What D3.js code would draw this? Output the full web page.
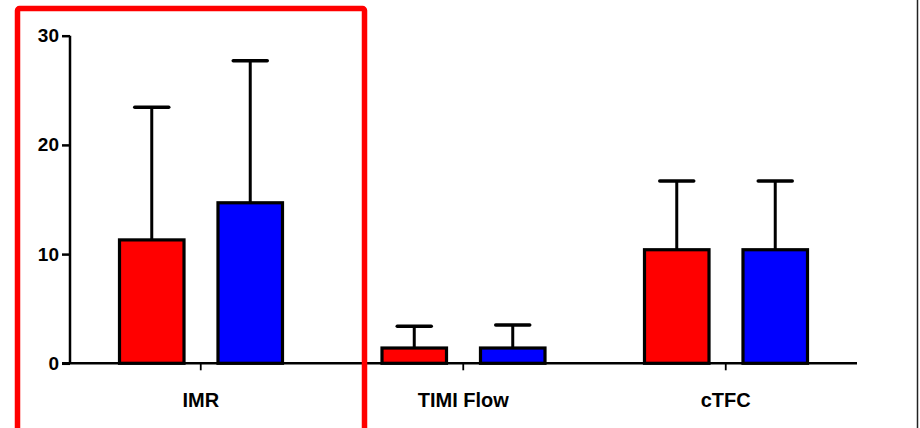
<!DOCTYPE html>
<html>
<head>
<meta charset="utf-8">
<script src="https://cdn.jsdelivr.net/npm/d3@7"></script>
<style>
  html, body { margin: 0; padding: 0; background: #fff; }
  svg { display: block; }
  text { font-family: "Liberation Sans", Arial, sans-serif; font-weight: bold; fill: #000; }
</style>
</head>
<body>
<svg id="chart" width="920" height="428"></svg>
<script>
// Outcome measures, two groups (mean with upper SD whisker)
const categories = ["IMR", "TIMI Flow", "cTFC"];
const seriesNames = ["Group 1", "Group 2"];
const seriesColors = ["#ff0000", "#0000ff"];
const group1Mean = [11.3, 1.4, 10.4];
const group1SD   = [12.15, 2.0, 6.3];
const group2Mean = [14.7, 1.4, 10.4];
const group2SD   = [13.0, 2.1, 6.3];
const yTicks = [0, 10, 20, 30];

const svg = d3.select("#chart");

const plotLeft = 70, plotRight = 857, plotTop = 35.7, plotBottom = 363.3;

const x0 = d3.scaleBand().domain(categories).range([plotLeft - 0.5, plotRight]).padding(0);
const x1 = d3.scaleBand().domain(seriesNames).range([50, 213]).paddingInner(0.345).paddingOuter(0);
const y = d3.scaleLinear().domain([0, 30]).range([plotBottom, plotTop]);

const rows = categories.map((c, i) => ({
  cat: c,
  vals: [
    { s: seriesNames[0], mean: group1Mean[i], sd: group1SD[i], color: seriesColors[0] },
    { s: seriesNames[1], mean: group2Mean[i], sd: group2SD[i], color: seriesColors[1] }
  ]
}));

// bars
const g = svg.append("g");
const grp = g.selectAll("g.cat").data(rows).join("g")
  .attr("class", "cat")
  .attr("transform", d => `translate(${x0(d.cat)},0)`);

// error whiskers (drawn first so the bar outline sits on top)
grp.selectAll("line.err").data(d => d.vals).join("line")
  .attr("class", "err")
  .attr("x1", d => x1(d.s) + x1.bandwidth() / 2)
  .attr("x2", d => x1(d.s) + x1.bandwidth() / 2)
  .attr("y1", d => y(d.mean))
  .attr("y2", d => y(d.mean + d.sd))
  .attr("stroke", "#000").attr("stroke-width", 3);

grp.selectAll("line.cap").data(d => d.vals).join("line")
  .attr("class", "cap")
  .attr("x1", d => x1(d.s) + x1.bandwidth() / 2 - 17)
  .attr("x2", d => x1(d.s) + x1.bandwidth() / 2 + 17)
  .attr("y1", d => y(d.mean + d.sd))
  .attr("y2", d => y(d.mean + d.sd))
  .attr("stroke", "#000").attr("stroke-width", 3.5).attr("stroke-linecap", "round");

grp.selectAll("rect").data(d => d.vals).join("rect")
  .attr("x", d => x1(d.s))
  .attr("y", d => y(d.mean))
  .attr("width", x1.bandwidth())
  .attr("height", d => y(0) - y(d.mean))
  .attr("fill", d => d.color)
  .attr("stroke", "#000").attr("stroke-width", 3.2);

// y axis
const yAxis = d3.axisLeft(y).tickValues(yTicks).tickSize(8).tickPadding(3).tickFormat(d3.format("d"));
const ya = svg.append("g").attr("transform", `translate(${plotLeft},0)`).call(yAxis);
ya.select(".domain").attr("stroke", "#000").attr("stroke-width", 2.5)
  .attr("d", `M0,${plotTop}V${plotBottom}`);
ya.selectAll(".tick line").attr("stroke", "#000").attr("stroke-width", 2.5);
ya.selectAll(".tick text").attr("font-size", 19).attr("font-weight", "bold")
  .attr("font-family", "'Liberation Sans', Arial, sans-serif").attr("fill", "#000");

// x axis
const xAxis = d3.axisBottom(x0).tickSize(7).tickPadding(23);
const xa = svg.append("g").attr("transform", `translate(0,${plotBottom})`).call(xAxis);
xa.select(".domain").attr("stroke", "#000").attr("stroke-width", 2.5)
  .attr("d", `M${plotLeft - 8},0H${plotRight}`);
xa.selectAll(".tick line").attr("stroke", "#000").attr("stroke-width", 1.8);
xa.selectAll(".tick text").attr("font-size", 20).attr("font-weight", "bold")
  .attr("font-family", "'Liberation Sans', Arial, sans-serif").attr("fill", "#000");

// highlight frame around the first measure
svg.append("rect")
  .attr("x", 17.5).attr("y", 8.5)
  .attr("width", 347).attr("height", 440)
  .attr("rx", 2)
  .attr("fill", "none").attr("stroke", "#ff0000").attr("stroke-width", 5.5);

// right-hand border line
svg.append("line")
  .attr("x1", 917.5).attr("x2", 917.5).attr("y1", 0).attr("y2", 428)
  .attr("stroke", "#222").attr("stroke-width", 1.5);
</script>
</body>
</html>
